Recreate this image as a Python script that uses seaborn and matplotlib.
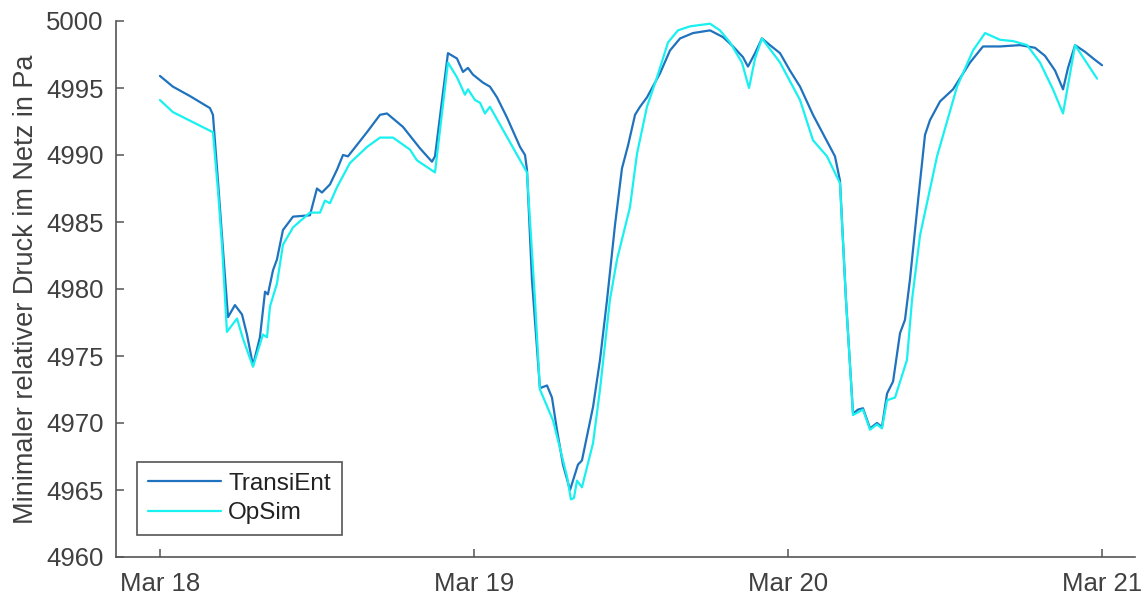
import numpy as np
import pandas as pd
import matplotlib
matplotlib.use("Agg")
import matplotlib.pyplot as plt
import matplotlib.dates as mdates
import seaborn as sns

# ---- data (hours since Mar 18 00:00, pressure in Pa) ----
transient_hours = [0.0, 0.99, 2.29, 3.82, 4.05, 4.43, 4.82, 5.20, 5.73, 6.27, 6.65, 7.11, 7.64, 8.03, 8.25,
                   8.64, 8.94, 9.40, 10.17, 11.46, 12.00, 12.38, 12.99, 13.53, 13.99, 14.37, 15.82, 16.82,
                   17.35, 18.57, 19.87, 20.79, 21.02, 22.01, 22.70, 23.16, 23.54, 23.92, 24.69, 25.22, 25.76,
                   26.52, 27.52, 27.90, 28.05, 28.43, 29.04, 29.58, 29.96, 30.34, 30.80, 31.34, 31.95, 32.25,
                   33.10, 33.63, 34.17, 34.78, 35.31, 35.77, 36.31, 36.69, 37.22, 38.22, 38.98, 39.75, 40.74,
                   42.04, 43.03, 43.80, 44.56, 44.94, 45.48, 46.01, 46.62, 47.39, 48.15, 48.92, 49.91, 50.83,
                   51.59, 51.97, 52.43, 52.97, 53.35, 53.73, 54.27, 54.80, 55.18, 55.57, 56.03, 56.56, 56.94,
                   57.32, 57.94, 58.47, 58.85, 59.62, 60.61, 61.91, 62.90, 64.20, 65.73, 66.88, 67.64, 68.41,
                   69.02, 69.40, 69.94, 70.70, 71.46, 72.0]
transient_values = [4995.9, 4995.1, 4994.4, 4993.5, 4993.0, 4988.1, 4982.9, 4977.9, 4978.8, 4978.1, 4976.6,
                    4974.3, 4976.4, 4979.8, 4979.6, 4981.4, 4982.2, 4984.4, 4985.4, 4985.5, 4987.5, 4987.2,
                    4987.8, 4988.9, 4990.0, 4989.9, 4991.7, 4993.0, 4993.1, 4992.1, 4990.5, 4989.5, 4989.9,
                    4997.6, 4997.2, 4996.2, 4996.5, 4996.0, 4995.4, 4995.1, 4994.3, 4992.8, 4990.6, 4990.0,
                    4988.9, 4980.7, 4972.6, 4972.8, 4971.9, 4969.5, 4966.9, 4965.0, 4966.9, 4967.2, 4971.2,
                    4974.7, 4979.2, 4984.8, 4989.0, 4990.7, 4993.0, 4993.6, 4994.3, 4996.1, 4997.8, 4998.7,
                    4999.1, 4999.3, 4998.8, 4998.1, 4997.3, 4996.6, 4997.6, 4998.7, 4998.2, 4997.6, 4996.3,
                    4995.1, 4993.0, 4991.3, 4989.9, 4988.1, 4979.2, 4970.7, 4971.0, 4971.1, 4969.6, 4970.0,
                    4969.7, 4972.2, 4973.1, 4976.7, 4977.7, 4980.7, 4986.6, 4991.5, 4992.6, 4994.0, 4994.9,
                    4996.9, 4998.1, 4998.1, 4998.2, 4998.0, 4997.4, 4996.3, 4994.9, 4996.5, 4998.2, 4997.7,
                    4997.1, 4996.7]

opsim_hours = [0.0, 0.99, 4.05, 4.43, 4.74, 5.12, 5.89, 6.34, 7.11, 7.87, 8.18, 8.41, 8.94, 9.40, 10.17,
               11.46, 12.23, 12.61, 12.99, 13.53, 14.52, 15.82, 16.82, 17.81, 19.11, 19.64, 20.41, 21.02,
               22.01, 22.70, 23.31, 23.54, 24.08, 24.46, 24.84, 25.22, 28.05, 28.66, 29.04, 30.04, 30.73,
               31.11, 31.41, 31.64, 31.87, 32.25, 33.10, 33.63, 34.39, 34.93, 35.92, 36.46, 37.22, 37.99,
               38.83, 39.59, 40.51, 42.04, 42.80, 43.57, 44.48, 45.02, 45.48, 46.01, 47.39, 48.92, 49.91,
               50.98, 51.97, 52.43, 52.97, 53.73, 54.27, 54.80, 55.18, 55.57, 56.18, 57.09, 57.48, 58.09,
               59.39, 60.92, 62.14, 63.06, 64.20, 65.20, 66.27, 67.26, 68.25, 69.02, 69.94, 71.62]
opsim_values = [4994.1, 4993.2, 4991.7, 4987.4, 4983.3, 4976.8, 4977.8, 4976.3, 4974.2, 4976.6, 4976.4,
                4978.7, 4980.4, 4983.3, 4984.6, 4985.7, 4985.7, 4986.6, 4986.4, 4987.6, 4989.4, 4990.6,
                4991.3, 4991.3, 4990.4, 4989.6, 4989.1, 4988.7, 4996.9, 4995.8, 4994.5, 4994.9, 4994.1,
                4993.9, 4993.1, 4993.6, 4988.7, 4979.2, 4972.5, 4970.2, 4967.5, 4966.0, 4964.3, 4964.4,
                4965.7, 4965.2, 4968.5, 4972.5, 4979.2, 4982.2, 4986.1, 4990.1, 4993.6, 4995.8, 4998.4,
                4999.3, 4999.6, 4999.8, 4999.3, 4998.4, 4996.9, 4995.0, 4997.2, 4998.7, 4996.9, 4994.1,
                4991.1, 4989.9, 4987.9, 4979.2, 4970.6, 4971.0, 4969.5, 4969.9, 4969.6, 4971.7, 4971.9,
                4974.7, 4979.2, 4984.0, 4989.9, 4995.1, 4997.8, 4999.1, 4998.6, 4998.5, 4998.2, 4996.9,
                4994.9, 4993.1, 4998.2, 4995.7]

series_names = ["TransiEnt", "OpSim"]
series_colors = ["#1f72bd", "#19f0f0"]
y_ticks = [4960, 4965, 4970, 4975, 4980, 4985, 4990, 4995, 5000]
y_label = "Minimaler relativer Druck im Netz in Pa"

start = pd.Timestamp("2024-03-18")
df = pd.concat([
    pd.DataFrame({"time": start + pd.to_timedelta(transient_hours, unit="h"),
                  "value": transient_values, "series": series_names[0]}),
    pd.DataFrame({"time": start + pd.to_timedelta(opsim_hours, unit="h"),
                  "value": opsim_values, "series": series_names[1]}),
], ignore_index=True)

sns.set_style("white")
plt.rcParams["font.family"] = ["Liberation Sans", "DejaVu Sans"]
text_color = "#404040"
axis_color = "#555555"

fig = plt.figure(figsize=(11.45, 5.99), dpi=100)
ax = fig.add_axes([116 / 1145, 1 - 557 / 599, (1135 - 116) / 1145, (557 - 21) / 599])

sns.lineplot(data=df, x="time", y="value", hue="series", hue_order=series_names,
             palette=dict(zip(series_names, series_colors)), estimator=None, sort=False,
             linewidth=1.6, ax=ax, legend=False)

ax.set_xlim(start - pd.Timedelta(hours=0.14 * 24), start + pd.Timedelta(hours=72 + 0.105 * 24))
ax.set_ylim(4960, 5000)
ax.set_yticks(y_ticks)
ax.xaxis.set_major_locator(mdates.DayLocator())
ax.xaxis.set_major_formatter(mdates.DateFormatter("%b %d"))
ax.set_xlabel("")
ax.set_ylabel(y_label, fontsize=19.5, color=text_color, labelpad=5)

for side in ["top", "right"]:
    ax.spines[side].set_visible(False)
for side in ["left", "bottom"]:
    ax.spines[side].set_color(axis_color)
    ax.spines[side].set_linewidth(1.2)
ax.tick_params(axis="both", direction="in", length=6, width=1.1, color=axis_color,
               labelsize=18.5, labelcolor=text_color, left=True, bottom=True)
ax.tick_params(axis="x", pad=11)
ax.tick_params(axis="y", pad=9)

handles = [plt.Line2D([], [], color=c, lw=1.6) for c in series_colors]
leg = ax.legend(handles, series_names, loc="lower left", bbox_to_anchor=(0.0206, 0.041),
                borderaxespad=0, fontsize=17.5, frameon=True, fancybox=False, framealpha=1,
                edgecolor=axis_color, handlelength=3.0, labelcolor="#222222",
                borderpad=0.45, labelspacing=0.3, handletextpad=0.3)
leg.get_frame().set_linewidth(1.2)

fig.savefig("out.png", dpi=100)
